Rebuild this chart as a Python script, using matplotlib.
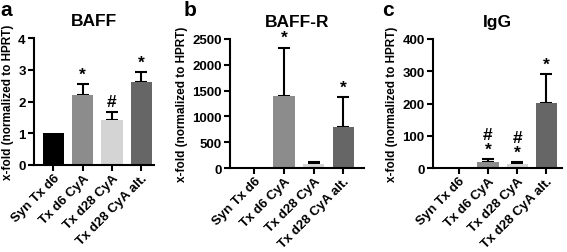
import numpy as np
import matplotlib
matplotlib.use('Agg')
import matplotlib.pyplot as plt

plt.rcParams['font.family'] = ['Liberation Sans', 'DejaVu Sans']
plt.rcParams['font.weight'] = 'bold'

groups = ['Syn Tx d6', 'Tx d6 CyA', 'Tx d28 CyA', 'Tx d28 CyA alt.']
colors = ['#000000', '#8c8c8c', '#d4d4d4', '#666666']

baff = [1.0, 2.22, 1.43, 2.6]
baff_err = [0, 0.33, 0.25, 0.32]
baff_marks = ['', '*', '#', '*']

baffr = [2, 1400, 75, 800]
baffr_err = [0, 930, 45, 570]
baffr_marks = ['', '*', '', '*']

igg = [1.5, 20, 13, 202]
igg_err = [0, 8, 6, 88]
igg_marks = ['', '#\n*', '#\n*', '*']

panels = [
    ('a', 'BAFF', baff, baff_err, baff_marks, [0, 1, 2, 3, 4], 4,
     [34, 154, 39, 166], (-0.66, 3.43), 0),
    ('b', 'BAFF-R', baffr, baffr_err, baffr_marks, [0, 500, 1000, 1500, 2000, 2500], 2500,
     [230, 364, 40, 169], (-0.82, 3.69), 184),
    ('c', 'IgG', igg, igg_err, igg_marks, [0, 100, 200, 300, 400], 400,
     [433, 562, 40, 169], (-0.88, 3.53), 382),
]

W, H = 567, 253
fig = plt.figure(figsize=(W / 100, H / 100), dpi=100)

for letter, title, vals, errs, marks, yt, ymax, box, xl, lx in panels:
    l, r, t, b = box
    ax = fig.add_axes([l / W, 1 - b / H, (r - l) / W, (b - t) / H])
    x = np.arange(len(groups))
    ax.bar(x, vals, width=0.72, color=colors, zorder=2)
    # only bars with an error value get a whisker
    ex = [xi for xi, e in zip(x, errs) if e > 0]
    ev = [v for v, e in zip(vals, errs) if e > 0]
    ee = [e for e in errs if e > 0]
    ax.errorbar(ex, ev, yerr=[np.zeros(len(ee)), ee], fmt='none', ecolor='black',
                elinewidth=1.5, capsize=4, capthick=1.5, zorder=1)
    for xi, v, e, m in zip(x, vals, errs, marks):
        if m:
            ax.text(xi, v + e + ymax * 0.02, m, ha='center', va='bottom',
                    fontsize=12.5, fontweight='bold', linespacing=0.95)
    ax.set_ylim(0, ymax)
    ax.set_xlim(*xl)
    ax.set_yticks(yt)
    ax.set_xticks(x)
    ax.set_xticklabels(groups, rotation=45, ha='right', rotation_mode='anchor',
                       fontsize=9.5, fontweight='bold')
    ax.tick_params(axis='y', labelsize=9.5, width=1.5, length=4, pad=2)
    ax.tick_params(axis='x', width=1.5, length=4, pad=1)
    for lab in ax.get_yticklabels():
        lab.set_fontweight('bold')
    for s in ['top', 'right']:
        ax.spines[s].set_visible(False)
    for s in ['left', 'bottom']:
        ax.spines[s].set_linewidth(1.5)
    ax.set_ylabel('x-fold (normalized to HPRT)', fontsize=8.5, fontweight='bold', labelpad=3)
    ax.set_title(title, fontsize=12.5, fontweight='bold', pad=9)
    fig.text(lx / W, 1 - 1 / H, letter, fontsize=15, fontweight='bold',
             ha='left', va='top')

fig.savefig('out.png', dpi=100)
